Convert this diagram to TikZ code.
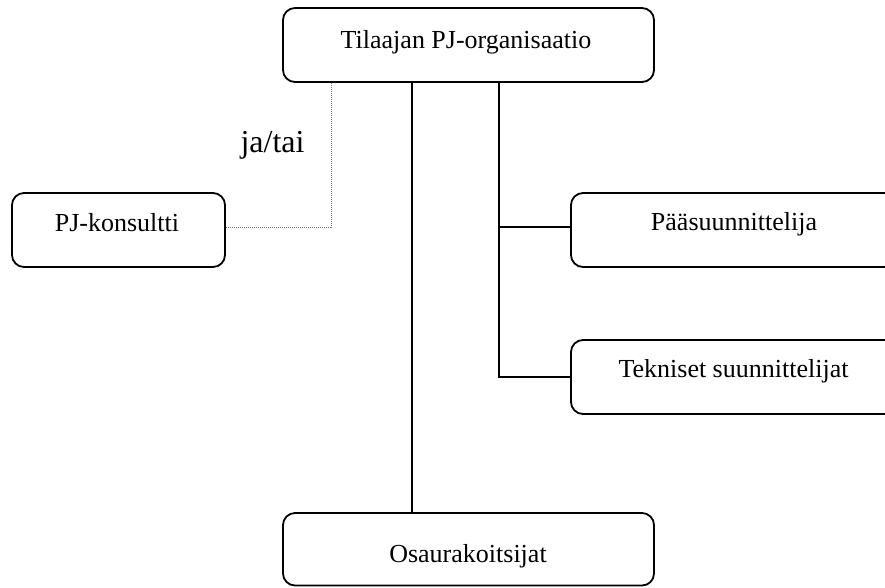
\documentclass[tikz,border=0pt]{standalone}
\usepackage{fontspec}
\setmainfont{Liberation Serif}
\begin{document}
\begin{tikzpicture}[x=1pt,y=-1pt,
  box/.style={draw,line width=1.8pt,rounded corners=12pt,inner sep=0pt},
  lbl/.style={font=\fontsize{26}{30}\selectfont,anchor=base,inner sep=0pt},
  conn/.style={line width=1.8pt},
  pjdots/.style={line width=1pt,draw=black!55,dash pattern=on 1pt off 1pt}
]
\useasboundingbox (0,0) rectangle (885,587);
% boxes
\node[box,minimum width=371pt,minimum height=74pt] (top) at (468.5,45) {};
\node[box,minimum width=213pt,minimum height=74pt] (pj) at (118.5,230) {};
\node[box,minimum width=325pt,minimum height=74pt] (paa) at (733.5,230) {};
\node[box,minimum width=325pt,minimum height=74pt] (tek) at (733.5,377) {};
\node[box,minimum width=371pt,minimum height=72.5pt] (osa) at (468.5,549.25) {};
% texts
\node[lbl] (ttop) at (466,48) {Tilaajan PJ-organisaatio};
\node[lbl] (tpj) at (117,231) {PJ-konsultti};
\node[lbl] (tpaa) at (734,230) {Pääsuunnittelija};
\node[lbl] (ttek) at (733.5,377) {Tekniset suunnittelijat};
\node[lbl] (tosa) at (468,562) {Osaurakoitsijat};
\node[font=\fontsize{32}{36}\selectfont,anchor=base,inner sep=0pt] (jatai) at (272.5,152) {ja/tai};
% connectors
\draw[conn] ([xshift=-56.5pt]top.south) -- ([xshift=-56.5pt]osa.north);
\draw[conn] ([xshift=30.5pt]top.south) |- (tek.west);
\draw[conn] ([yshift=3pt]paa.west) -| ([xshift=30.5pt]top.south);
\draw[pjdots] ([xshift=-137.5pt]top.south) |- ([yshift=3pt]pj.east);
\end{tikzpicture}
\end{document}
